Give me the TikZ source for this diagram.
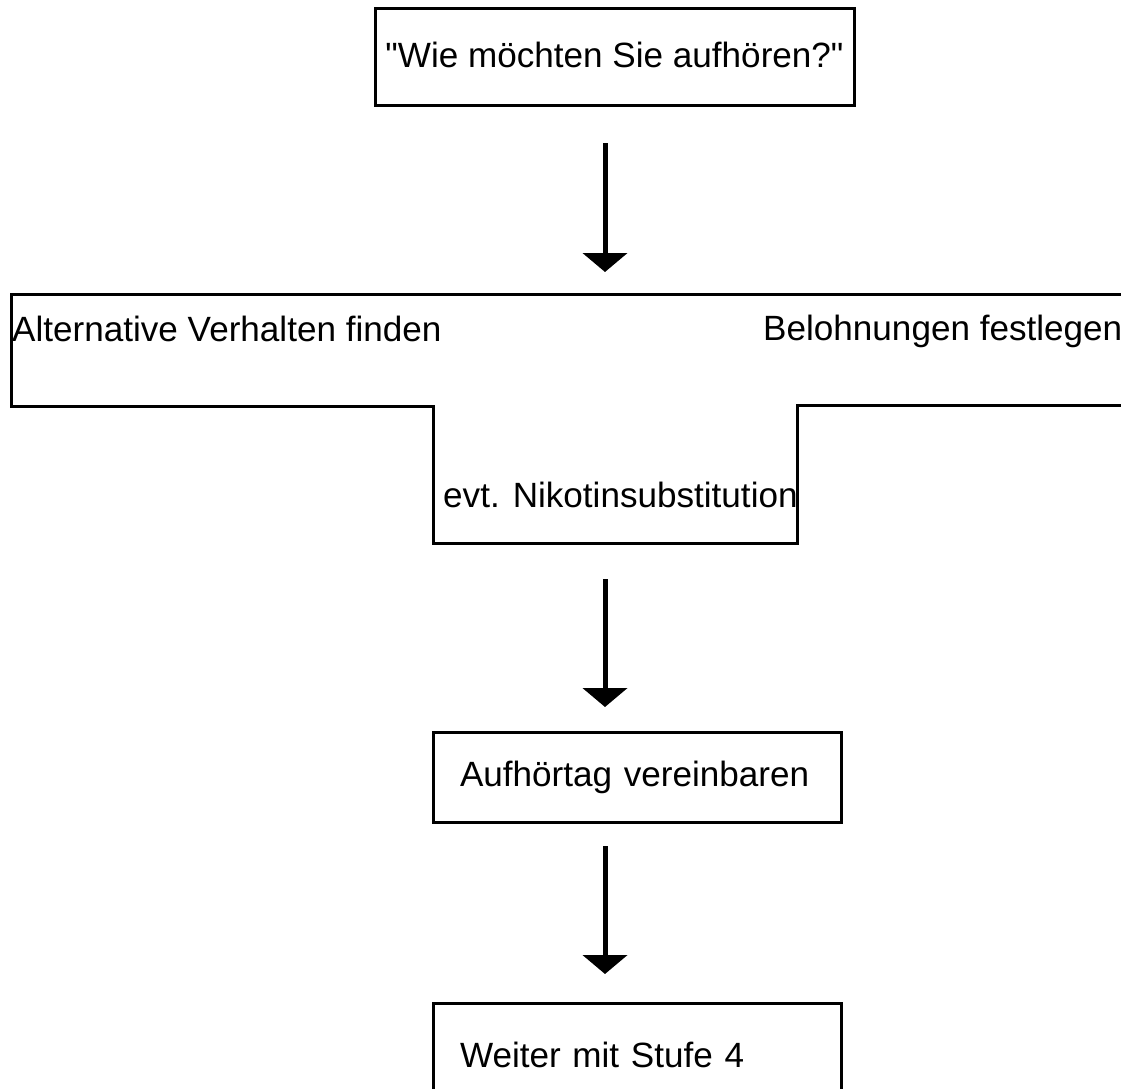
\documentclass[tikz,border=0pt]{standalone}
\usepackage{fontspec}
\setmainfont{Liberation Sans}[Ligatures=TeXOff]
\usetikzlibrary{arrows.meta,positioning}
\tikzset{
    %Define standard arrow tip
    >={Triangle[width=44pt,length=19pt]},
    %Define style for boxes
    frage/.style={
           rectangle,
           draw=black, line width=3pt,
           inner sep=0pt, outer sep=0pt,
           minimum width=479pt,
           text height=58.5pt,
           text depth=38.5pt,
           align=center},
    stufe/.style={
           rectangle,
           draw=black, line width=3pt,
           inner xsep=27pt, inner ysep=0pt, outer sep=0pt,
           text width=354pt,
           align=left},
    schrift/.style={
           inner sep=0pt,
           anchor=base west},
    rahmen/.style={
           draw=black, line width=3pt,
           line join=miter},
    % Define arrow style
    pfeil/.style={
           ->,
           line width=5pt}
}

\begin{document}
\begin{tikzpicture}[x=1pt,y=-1pt,
  every node/.style={font=\fontsize{35.1pt}{42pt}\selectfont}]
\useasboundingbox (0,0) rectangle (1121,1088);
 %nodes
\node[frage, anchor=base](ask) at (614.5,67){"Wie möchten Sie aufhören?"};
\node[schrift](alt) at (12,341){Alternative Verhalten finden};
\node[schrift](bel) at (763,340){Belohnungen festlegen};
\node[schrift](nic) at (443,507){evt. Nikotinsubstitution};
\node[stufe, anchor=base west, text height=54pt, text depth=36pt](tag) at (433,786){Aufhörtag vereinbaren};
\node[stufe, anchor=base west, text height=64pt, text depth=32pt](next) at (433,1067){Weiter mit Stufe 4};
 %frame of the middle step
\draw[rahmen] (1130,294) -- (11,294) -- (11,406) -- (433,406) -- (433,543)
    -- (797,543) -- (797,405) -- (1130,405);
 %arrows
\coordinate (a1) at (605,143);
\coordinate (b1) at (605,272);
\coordinate (a2) at (605,579);
\coordinate (b2) at (605,707);
\coordinate (a3) at (605,846);
\coordinate (b3) at (605,974);
 \path[pfeil]
    (a1) edge (b1)
    (a2) edge (b2)
    (a3) edge (b3);
\end{tikzpicture}
\end{document}
